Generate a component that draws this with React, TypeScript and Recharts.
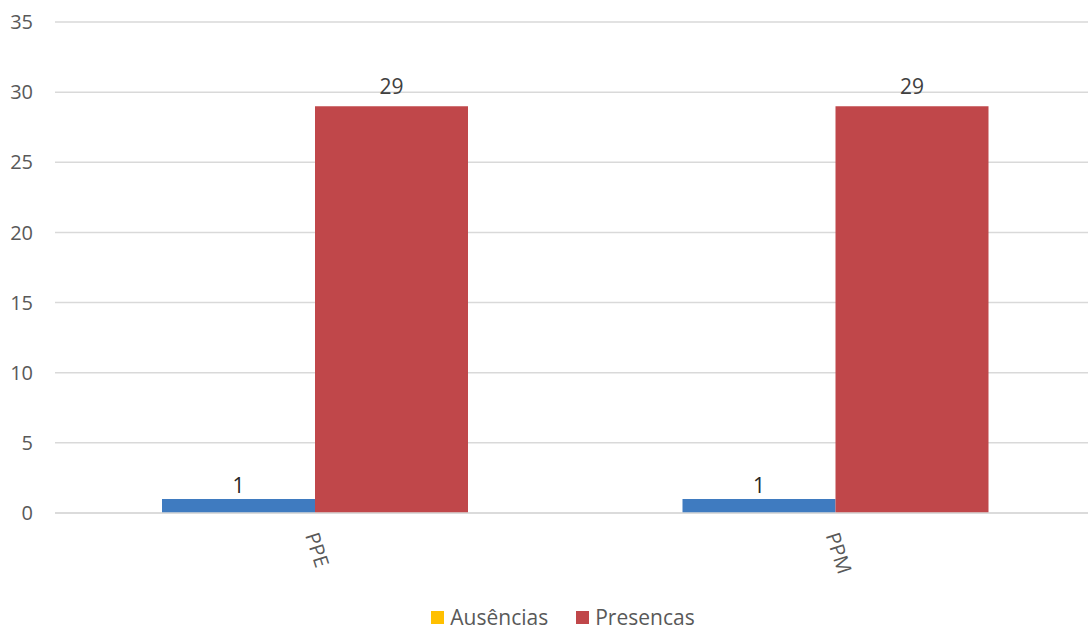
import React from "react";
import { BarChart, Bar, XAxis, YAxis, CartesianGrid, Legend, LabelList } from "recharts";

const categories = ["PPE", "PPM"];
const ausencias = [1, 1];
const presencas = [29, 29];
const yTicks = [0, 5, 10, 15, 20, 25, 30, 35];

const data = categories.map((c, i) => ({ name: c, ausencias: ausencias[i], presencas: presencas[i] }));

const FONT = "'Open Sans', 'Liberation Sans', sans-serif";

const XTick = (props: any) => {
  const { x, y, payload } = props;
  return (
    <g transform={`translate(${x - 3},${y + 12})`}>
      <text transform="rotate(72)" textAnchor="start" dominantBaseline="central" fill="#595959" fontSize={20} fontFamily={FONT}>
        {payload.value}
      </text>
    </g>
  );
};

const legendItems = [
  { label: "Ausências", color: "#FFC000" },
  { label: "Presencas", color: "#C0474A" },
];

const LegendContent = () => (
  <div style={{ display: "flex", justifyContent: "center", alignItems: "center", height: 18, lineHeight: "18px", marginTop: 26, paddingLeft: 30, fontFamily: FONT, fontSize: 21, color: "#595959" }}>
    {legendItems.map((it, i) => (
      <div key={it.label} style={{ display: "flex", alignItems: "center", marginLeft: i === 0 ? 0 : 28 }}>
        <span style={{ display: "inline-block", width: 13, height: 13, background: it.color, marginRight: 6 }} />
        <span>{it.label}</span>
      </div>
    ))}
  </div>
);

export default function App() {
  return (
    <div style={{ position: "absolute", left: 0, top: 0, width: 1088, height: 626, overflow: "hidden", background: "#fff" }}>
      <BarChart width={1096} height={626} data={data} margin={{ top: 22, right: 0, bottom: 0, left: 0 }} barCategoryGap={107} barGap={0}>
        <CartesianGrid vertical={false} stroke="#d9d9d9" strokeWidth={1.5} />
        <XAxis dataKey="name" axisLine={{ stroke: "#d9d9d9", strokeWidth: 1.5 }} tickLine={false} tick={<XTick />} height={69} interval={0} />
        <YAxis domain={[0, 35]} ticks={yTicks} axisLine={false} tickLine={false} width={55} tickMargin={16}
          tick={{ fill: "#595959", fontSize: 20, fontFamily: FONT }} />
        <Legend verticalAlign="bottom" height={44} content={<LegendContent />} />
        <Bar dataKey="ausencias" fill="#3F7BC0" isAnimationActive={false}>
          <LabelList dataKey="ausencias" position="top" offset={6} fill="#262626" fontSize={21} fontFamily={FONT} />
        </Bar>
        <Bar dataKey="presencas" fill="#C0474A" isAnimationActive={false}>
          <LabelList dataKey="presencas" position="top" offset={12} fill="#404040" fontSize={21} fontFamily={FONT} />
        </Bar>
      </BarChart>
    </div>
  );
}
